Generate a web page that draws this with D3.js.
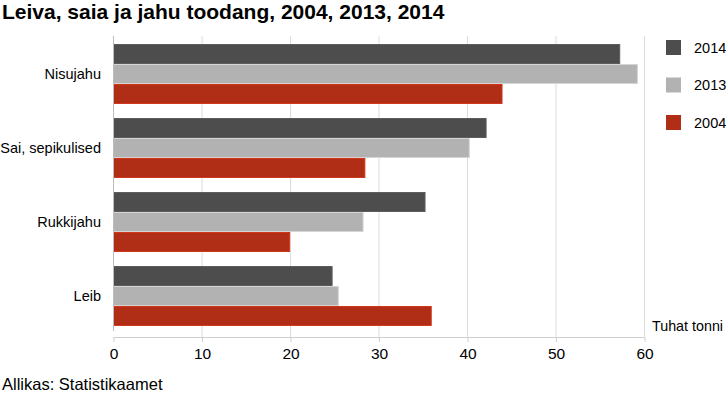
<!DOCTYPE html>
<html>
<head>
<meta charset="utf-8">
<script src="https://cdn.jsdelivr.net/npm/d3@7"></script>
<style>
  body { margin: 0; background: #fff; }
  svg text { font-family: Arial, "Liberation Sans", sans-serif; fill: #000; }
</style>
</head>
<body>
<svg id="chart" width="726" height="396"></svg>
<script>
// data
var kategooriad = ["Nisujahu", "Sai, sepikulised", "Rukkijahu", "Leib"];
var aastad = ["2014", "2013", "2004"];
var vaartused2014 = [57.2, 42.1, 35.2, 24.7];
var vaartused2013 = [59.2, 40.2, 28.2, 25.4];
var vaartused2004 = [43.9, 28.4, 19.9, 35.9];
var xTicks = [0, 10, 20, 30, 40, 50, 60];
var varvid = { "2014": "#4d4d4d", "2013": "#b2b2b2", "2004": "#b02d16" };

var seeriad = { "2014": vaartused2014, "2013": vaartused2013, "2004": vaartused2004 };

var svg = d3.select("#chart");
var axisY = 337;

var x = d3.scaleLinear().domain([0, 60]).range([113, 644]);
var y = d3.scaleBand().domain(kategooriad).range([37, 333])
    .paddingInner(0.19).paddingOuter(0.095);
var yInner = d3.scaleBand().domain(aastad).range([0, y.bandwidth()]);

// title
svg.append("text")
    .attr("x", 2)
    .attr("y", 19)
    .style("font-size", "21px")
    .style("font-weight", "bold")
    .text("Leiva, saia ja jahu toodang, 2004, 2013, 2014");

// grid lines
svg.append("g")
    .selectAll("line")
    .data(xTicks.slice(1))
    .enter().append("line")
    .attr("x1", function(d) { return x(d) + 0.5; })
    .attr("x2", function(d) { return x(d) + 0.5; })
    .attr("y1", 36)
    .attr("y2", axisY)
    .attr("stroke", "#dcdcdc")
    .attr("stroke-width", 1);

// bars
kategooriad.forEach(function(kat, i) {
    var g = svg.append("g").attr("transform", "translate(0," + y(kat) + ")");
    g.selectAll("rect")
        .data(aastad)
        .enter().append("rect")
        .attr("x", x(0) + 0.5)
        .attr("y", function(a) { return yInner(a) + 0.5; })
        .attr("width", function(a) { return x(seeriad[a][i]) - x(0); })
        .attr("height", yInner.bandwidth() - 1)
        .attr("fill", function(a) { return varvid[a]; })
        .attr("stroke", function(a) { return d3.color(varvid[a]).brighter(0.5); })
        .attr("stroke-width", 1);
});

// y axis line
svg.append("line")
    .attr("x1", x(0) + 0.5).attr("x2", x(0) + 0.5)
    .attr("y1", 36).attr("y2", 331)
    .attr("stroke", "#bdbdbd");

// category labels
svg.append("g")
    .selectAll("text")
    .data(kategooriad)
    .enter().append("text")
    .attr("x", 101)
    .attr("y", function(d) { return y(d) + y.bandwidth() / 2; })
    .attr("dy", "0.35em")
    .attr("text-anchor", "end")
    .style("font-size", "14.5px")
    .text(function(d) { return d; });

// x axis
var xAxis = d3.axisBottom(x).tickValues(xTicks).tickSize(5).tickPadding(6);
var ax = svg.append("g")
    .attr("transform", "translate(0.5," + axisY + ")")
    .call(xAxis);
ax.select(".domain").attr("stroke", "#cfcfcf").attr("d", "M" + (x(0)) + ",0.5H" + x(60));
ax.selectAll(".tick line").attr("stroke", "#cfcfcf");
ax.selectAll(".tick text")
    .style("font-size", "15.5px")
    .style("font-family", "Arial, 'Liberation Sans', sans-serif")
    .attr("fill", "#000");

// unit
svg.append("text")
    .attr("x", 652)
    .attr("y", 331)
    .style("font-size", "14.3px")
    .text("Tuhat tonni");

// legend
var legend = svg.append("g")
    .selectAll("g")
    .data(aastad)
    .enter().append("g")
    .attr("transform", function(d, i) { return "translate(666," + (40 + i * 37.5) + ")"; });

legend.append("rect")
    .attr("width", 15)
    .attr("height", 15)
    .attr("fill", function(d) { return varvid[d]; });

legend.append("text")
    .attr("x", 28)
    .attr("y", 7.5)
    .attr("dy", "0.35em")
    .style("font-size", "14.5px")
    .text(function(d) { return d; });

// source
svg.append("text")
    .attr("x", 2)
    .attr("y", 390)
    .style("font-size", "16.5px")
    .text("Allikas: Statistikaamet");
</script>
</body>
</html>
